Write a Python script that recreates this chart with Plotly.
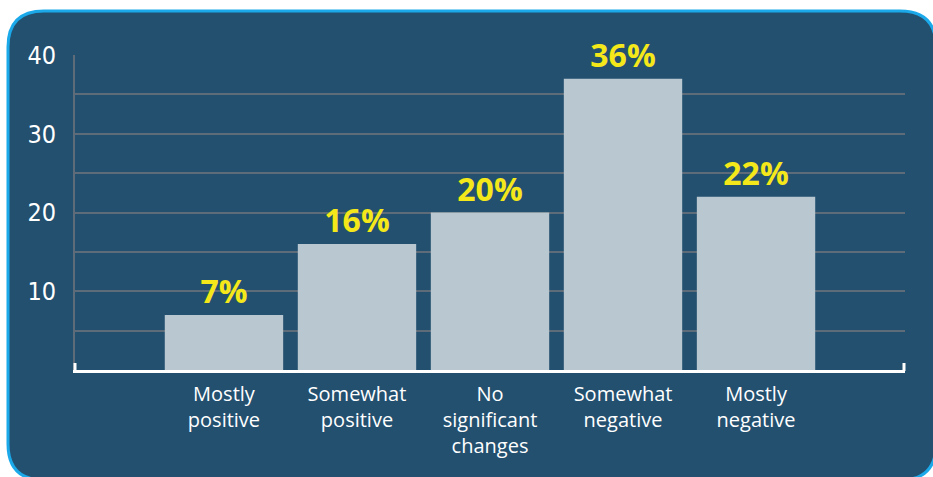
import plotly.graph_objects as go

# ---- data ----
categories = ["Mostly<br>positive", "Somewhat<br>positive", "No<br>significant<br>changes",
              "Somewhat<br>negative", "Mostly<br>negative"]
bar_heights = [7, 16, 20, 37, 22]          # bar lengths as drawn
bar_labels = ["7%", "16%", "20%", "36%", "22%"]
y_tickvals = [5, 10, 15, 20, 25, 30, 35, 40]
y_ticktext = ["", "10", "", "20", "", "30", "", "40"]

W, H = 933, 477
BG = "#23506f"
BORDER = "#1ba9ea"
GRID = "#5d6c78"
BAR = "#b8c7d0"
YELLOW = "#f4e81a"


def px(x):
    return x / W


def py(y):
    return 1 - y / H


def rounded_rect(x0, y0, x1, y1, r):
    pts = [
        f"M {px(x0 + r)},{py(y0)}",
        f"L {px(x1 - r)},{py(y0)}",
        f"Q {px(x1)},{py(y0)} {px(x1)},{py(y0 + r)}",
        f"L {px(x1)},{py(y1 - r)}",
        f"Q {px(x1)},{py(y1)} {px(x1 - r)},{py(y1)}",
        f"L {px(x0 + r)},{py(y1)}",
        f"Q {px(x0)},{py(y1)} {px(x0)},{py(y1 - r)}",
        f"L {px(x0)},{py(y0 + r)}",
        f"Q {px(x0)},{py(y0)} {px(x0 + r)},{py(y0)}",
        "Z",
    ]
    return " ".join(pts)


fig = go.Figure()
fig.add_trace(go.Bar(
    x=list(range(len(categories))),
    y=bar_heights,
    marker=dict(color=BAR, line=dict(width=0)),
    text=bar_labels,
    textposition="outside",
    cliponaxis=False,
    textfont=dict(family="Open Sans", size=32, color=YELLOW, weight="bold"),
    hoverinfo="skip",
))

x_dom = [px(75), px(905)]
y_dom = [py(370), py(55)]

fig.update_layout(
    width=W, height=H,
    margin=dict(l=0, r=0, t=0, b=0, autoexpand=False),
    paper_bgcolor="white",
    plot_bgcolor="rgba(0,0,0,0)",
    showlegend=False,
    bargap=0.11,
    xaxis=dict(
        domain=x_dom,
        range=[-1.12, 5.12],
        automargin=False,
        tickmode="array",
        tickvals=list(range(len(categories))),
        ticktext=categories,
        tickfont=dict(family="Open Sans", size=20, color="white"),
        ticklabelstandoff=4,
        showgrid=False,
        showline=True, linecolor="white", linewidth=3,
        zeroline=False,
        fixedrange=True,
    ),
    yaxis=dict(
        domain=y_dom,
        range=[0, 40],
        automargin=False,
        tickmode="array",
        tickvals=y_tickvals,
        ticktext=y_ticktext,
        tickfont=dict(family="DejaVu Sans Condensed, Liberation Sans, sans-serif", size=25, color="white"),
        ticklabelstandoff=12,
        showgrid=True, gridcolor=GRID, gridwidth=2,
        showline=True, linecolor=GRID, linewidth=2,
        zeroline=False,
        fixedrange=True,
    ),
    shapes=[
        dict(type="path", xref="paper", yref="paper", layer="below",
             path=rounded_rect(8, 11, 936, 480, 36),
             fillcolor=BG, line=dict(color=BORDER, width=3)),
        dict(type="line", xref="paper", yref="paper", layer="above",
             x0=px(75), x1=px(75), y0=py(371), y1=py(363),
             line=dict(color="white", width=3)),
        dict(type="line", xref="paper", yref="paper", layer="above",
             x0=px(904), x1=px(904), y0=py(371), y1=py(363),
             line=dict(color="white", width=3)),
    ],
)

fig.write_html("out.html", config={"displayModeBar": False},
               post_script="document.body.style.margin='0';")
